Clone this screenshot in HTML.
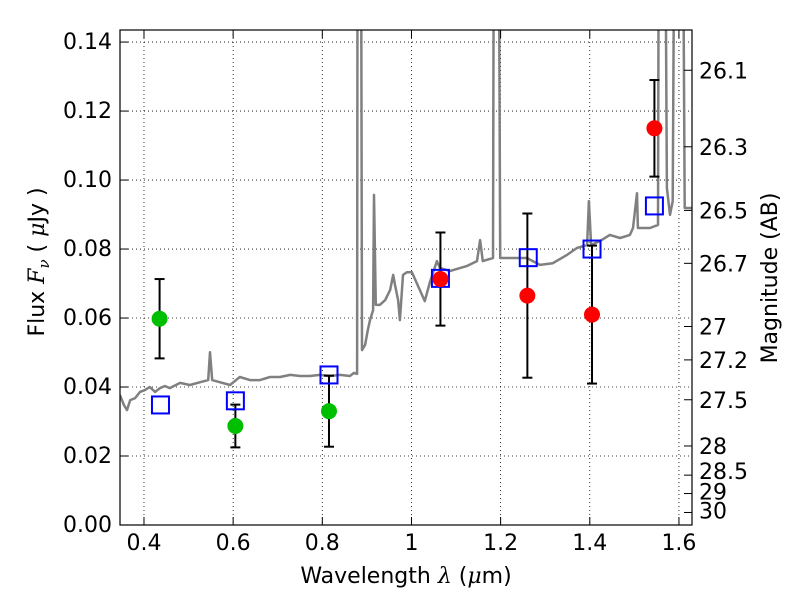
<!DOCTYPE html>
<html><head><meta charset="utf-8"><style>body{margin:0;background:#fff}svg{display:block;font-family:"DejaVu Sans","Liberation Sans",sans-serif}</style></head>
<body>
<svg id="chart" width="800" height="600" xmlns="http://www.w3.org/2000/svg"></svg>
<script>
const xTicks=[0.4,0.6,0.8,1.0,1.2,1.4,1.6];
const xTickLabels=["0.4","0.6","0.8","1","1.2","1.4","1.6"];
const yTicks=[0,0.02,0.04,0.06,0.08,0.10,0.12,0.14];
const yTickLabels=["0.00","0.02","0.04","0.06","0.08","0.10","0.12","0.14"];
const magTicks=[26.1,26.3,26.5,26.7,27,27.2,27.5,28,28.5,29,30];
const specWave=[0.346,0.355,0.362,0.369,0.380,0.391,0.402,0.413,0.425,0.436,0.447,0.458,0.481,0.503,0.526,0.544,0.548,0.553,0.570,0.593,0.615,0.638,0.660,0.683,0.705,0.728,0.750,0.772,0.795,0.817,0.840,0.862,0.871,0.878,0.880,0.885,0.889,0.896,0.902,0.907,0.914,0.916,0.920,0.929,0.941,0.952,0.959,0.963,0.970,0.974,0.981,0.990,1.001,1.030,1.042,1.057,1.064,1.086,1.125,1.147,1.154,1.160,1.183,1.187,1.192,1.199,1.228,1.259,1.288,1.317,1.349,1.371,1.394,1.398,1.403,1.423,1.445,1.468,1.490,1.497,1.506,1.508,1.535,1.553,1.557,1.564,1.573,1.580,1.586,1.595,1.604,1.613,1.629];
const specFlux=[0.0377,0.0348,0.0333,0.0362,0.0368,0.0386,0.0391,0.0400,0.0386,0.0397,0.0403,0.0397,0.0412,0.0406,0.0414,0.0420,0.0501,0.0420,0.0414,0.0406,0.0429,0.0420,0.0420,0.0429,0.0429,0.0435,0.0432,0.0432,0.0435,0.0432,0.0435,0.0432,0.0441,0.0438,0.30,0.30,0.0507,0.0522,0.0565,0.0594,0.0623,0.0957,0.0638,0.0638,0.0652,0.0681,0.0725,0.0696,0.0652,0.0594,0.0725,0.0733,0.0733,0.0649,0.0707,0.0765,0.0745,0.0736,0.0751,0.0765,0.0826,0.0765,0.0774,0.30,0.30,0.0774,0.0774,0.0774,0.0754,0.0759,0.0783,0.0803,0.0812,0.0939,0.0812,0.0823,0.0841,0.0832,0.0841,0.0861,0.0962,0.0861,0.0861,0.0870,0.30,0.30,0.0977,0.0899,0.0939,0.30,0.30,0.0919,0.0919];
const greenWave=[0.435,0.605,0.815];
const greenFlux=[0.0598,0.0287,0.0330];
const greenErr=[0.0115,0.0062,0.0103];
const redWave=[1.065,1.260,1.405,1.545];
const redFlux=[0.0713,0.0665,0.0610,0.1150];
const redErr=[0.0135,0.0238,0.0200,0.0140];
const modelWave=[0.437,0.605,0.815,1.065,1.262,1.405,1.545];
const modelFlux=[0.0348,0.0360,0.0435,0.0715,0.0775,0.0800,0.0925];

const L=120,R=692,T=30,B=525;
const X0=0.3462,X1=1.6293,Y0=0,Y1=0.1435;
const xs=v=>L+(v-X0)/(X1-X0)*(R-L);
const ys=v=>B-(v-Y0)/(Y1-Y0)*(B-T);
const magToFlux=m=>Math.pow(10,(23.9-m)/2.5);
const svg=document.getElementById('chart');
const NS='http://www.w3.org/2000/svg';
function mk(tag,attrs,parent){const e=document.createElementNS(NS,tag);for(const k in attrs)e.setAttribute(k,attrs[k]);(parent||svg).appendChild(e);return e;}

const defs=mk('defs',{});
const cp=mk('clipPath',{id:'clip'},defs);
mk('rect',{x:L,y:T,width:R-L,height:B-T},cp);

xTicks.forEach(v=>{const g=mk('line',{x1:xs(v),x2:xs(v),y1:T,y2:B,stroke:'#000','stroke-width':0.8,'stroke-dasharray':'1,3'});

});
yTicks.forEach(v=>{const g=mk('line',{x1:L,x2:R,y1:ys(v),y2:ys(v),stroke:'#000','stroke-width':0.8,'stroke-dasharray':'1,3'});

});

let d='';specWave.forEach((w,i)=>{d+=(i?'L':'M')+xs(w).toFixed(1)+','+ys(specFlux[i]).toFixed(1);});
const sp=mk('path',{d:d,fill:'none',stroke:'#808080','stroke-width':2.5,'clip-path':'url(#clip)','stroke-linejoin':'round'});



function errbar(w,f,e){const g=mk('g',{stroke:'#000','stroke-width':2});


const x=xs(w);mk('line',{x1:x,x2:x,y1:ys(f-e),y2:ys(f+e)},g);
mk('line',{x1:x-5,x2:x+5,y1:ys(f-e),y2:ys(f-e)},g);mk('line',{x1:x-5,x2:x+5,y1:ys(f+e),y2:ys(f+e)},g);}
greenWave.forEach((w,i)=>errbar(w,greenFlux[i],greenErr[i]));
redWave.forEach((w,i)=>errbar(w,redFlux[i],redErr[i]));
modelWave.forEach((w,i)=>{const r=mk('rect',{x:xs(w)-8.5,y:ys(modelFlux[i])-8.5,width:17,height:17,fill:'none',stroke:'#0000ff','stroke-width':2});

});
greenWave.forEach((w,i)=>{const c=mk('circle',{cx:xs(w),cy:ys(greenFlux[i]),r:8,fill:'#00bf00'});

});
redWave.forEach((w,i)=>{const c=mk('circle',{cx:xs(w),cy:ys(redFlux[i]),r:8,fill:'#ff0000'});

});

const fr=mk('rect',{x:L,y:T,width:R-L,height:B-T,fill:'none',stroke:'#000','stroke-width':1.2});



xTicks.forEach((v,i)=>{const x=xs(v);mk('line',{x1:x,x2:x,y1:B,y2:B-8,stroke:'#000'});mk('line',{x1:x,x2:x,y1:T,y2:T+8,stroke:'#000'});
const t=mk('text',{x:x,y:B+25,'text-anchor':'middle','font-size':22});t.textContent=xTickLabels[i];

});
yTicks.forEach((v,i)=>{const y=ys(v);mk('line',{x1:L,x2:L+8,y1:y,y2:y,stroke:'#000'});
const t=mk('text',{x:L-8,y:y+7,'text-anchor':'end','font-size':22});t.textContent=yTickLabels[i];

});
magTicks.forEach(m=>{const y=ys(magToFlux(m));mk('line',{x1:R,x2:R-8,y1:y,y2:y,stroke:'#000'});
let off=8; if(m===28.5)off=4; if(m===29)off=6; if(m===30)off=6;
const t=mk('text',{x:R+7,y:y+off,'font-size':22});t.textContent=String(m);

});

const xl=mk('text',{x:406,y:583,'text-anchor':'middle','font-size':22});xl.innerHTML='Wavelength  <tspan font-style="italic" font-family="DejaVu Serif, serif">λ</tspan> (<tspan font-style="italic" font-family="DejaVu Serif, serif">μ</tspan>m)';


const yl=mk('text',{x:0,y:0,'text-anchor':'middle','font-size':22,transform:'translate(44,262) rotate(-90)'});yl.innerHTML='Flux  <tspan font-style="italic" font-family="DejaVu Serif, serif">F</tspan><tspan font-style="italic" font-size="15" dy="5" font-family="DejaVu Serif, serif">ν</tspan><tspan dy="-5">  ( </tspan><tspan font-style="italic" font-family="DejaVu Serif, serif">μ</tspan>Jy )';


const rl=mk('text',{x:0,y:0,'text-anchor':'middle','font-size':22,transform:'translate(777,278) rotate(-90)'});rl.textContent='Magnitude (AB)';


</script>
</body></html>
